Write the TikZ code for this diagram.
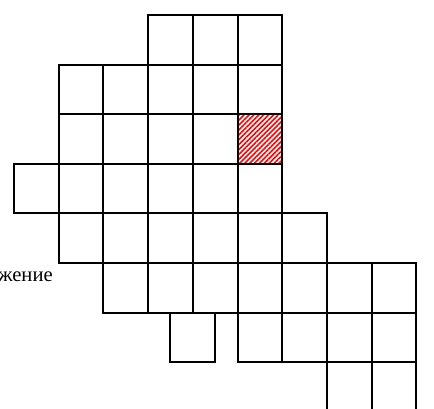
\documentclass[tikz,border=0pt]{standalone}
\usepackage{fontspec}
\setmainfont{Liberation Serif}
\usetikzlibrary{patterns.meta}
\tikzset{
  cell/.style={draw=black, line width=1.5pt},
  hatched/.style={cell, pattern={Lines[angle=45, distance=2.6pt, line width=1.2pt]}, pattern color=red},
}
\newcommand{\cw}{44.7}
\newcommand{\ch}{49.6}

\begin{document}
\begin{tikzpicture}[x=0.75pt, y=-0.75pt]
    \useasboundingbox (0,0) rectangle (434,408);
    \clip (0,0) rectangle (434,408);
    % --- Rows of cells: row / first column / last column ---
    \foreach \r/\a/\b in {0/3/5, 1/1/5, 2/1/4, 3/0/5, 4/1/6, 5/2/8, 6/5/8, 7/7/8}
        \foreach \c in {\a,...,\b}
            \draw[cell] ({14+\c*\cw},{15+\r*\ch}) rectangle ++(\cw,\ch);
    % Zakreskowana komórka
    \draw[hatched] ({14+5*\cw},{15+2*\ch}) rectangle ++(\cw,\ch);
    % Przesunięta komórka
    \draw[cell] ({14+3.5*\cw},{15+6*\ch}) rectangle ++(\cw,\ch);
    % Podpis
    \node[anchor=base east, inner sep=0pt, font=\fontsize{15.5}{18}\selectfont] (lbl) at (53,281) {жение};
\end{tikzpicture}
\end{document}
